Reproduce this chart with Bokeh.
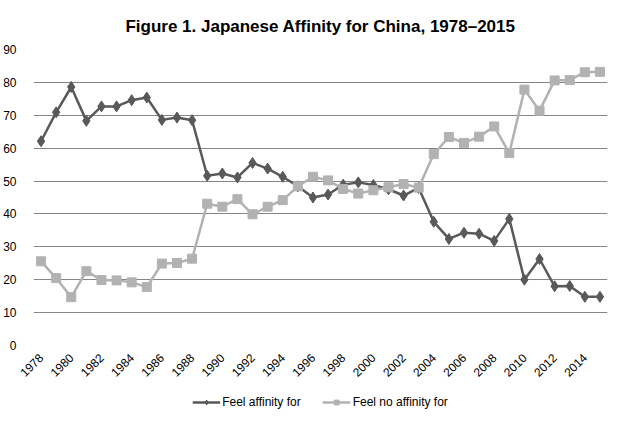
import math
from bokeh.plotting import figure
from bokeh.layouts import column
from bokeh.models import FixedTicker, Range1d, Legend, LegendItem
from bokeh.embed import file_html
from bokeh.resources import INLINE

years = list(range(1978, 2016))
affinity = [62.1, 70.9, 78.6, 68.3, 72.7, 72.7, 74.6, 75.4, 68.6, 69.3, 68.5,
            51.6, 52.3, 51.1, 55.5, 53.8, 51.3, 48.4, 45.0, 45.9, 48.9, 49.6,
            48.8, 47.5, 45.6, 47.9, 37.6, 32.4, 34.3, 34.0, 31.8, 38.5, 20.0,
            26.3, 18.0, 18.1, 14.8, 14.8]
no_affinity = [25.6, 20.5, 14.7, 22.6, 19.9, 19.8, 19.2, 17.8, 24.9, 25.1, 26.4,
               43.1, 42.2, 44.5, 39.9, 42.2, 44.2, 48.4, 51.3, 50.2, 47.6, 46.2,
               47.2, 48.1, 49.1, 48.0, 58.2, 63.4, 61.6, 63.5, 66.6, 58.5, 77.8,
               71.4, 80.6, 80.7, 83.1, 83.2]
year_ticks = list(range(1978, 2015, 2))
y_ticks = list(range(0, 91, 10))
title_text = "Figure 1. Japanese Affinity for China, 1978\u20132015"
series_names = ["Feel affinity for", "Feel no affinity for"]

DARK = "#595959"
LIGHT = "#b2b2b2"
GRID = "#868686"
FONT = "Liberation Sans"

p = figure(frame_width=574, frame_height=296, output_backend="svg",
           toolbar_location=None,
           x_range=Range1d(1977.5, 2015.5), y_range=Range1d(0, 90),
           min_border_left=33, min_border_right=2, min_border_top=48,
           min_border_bottom=48)

p.title.text = title_text
p.title.align = "center"
p.title.text_font = FONT
p.title.text_font_size = "17px"
p.title.text_font_style = "bold"
p.title.text_color = "#000000"
p.title.offset = 0
p.title.standoff = 28

p.outline_line_color = None
p.xgrid.grid_line_color = None
p.ygrid.grid_line_color = GRID
p.ygrid.grid_line_width = 1
p.ygrid.ticker = FixedTicker(ticks=y_ticks)

p.yaxis.ticker = FixedTicker(ticks=y_ticks)
p.yaxis.axis_line_color = None
p.yaxis.major_tick_line_color = None
p.yaxis.minor_tick_line_color = None
p.yaxis.major_label_text_font = FONT
p.yaxis.major_label_text_font_size = "12px"
p.yaxis.major_label_text_color = "#000000"
p.yaxis.major_label_standoff = 11

p.xaxis.ticker = FixedTicker(ticks=year_ticks)
p.xaxis.axis_line_color = None
p.xaxis.major_tick_line_color = None
p.xaxis.minor_tick_line_color = None
p.xaxis.major_label_orientation = math.pi / 4
p.xaxis.major_label_text_font = FONT
p.xaxis.major_label_text_font_size = "12px"
p.xaxis.major_label_text_color = "#000000"
p.xaxis.major_label_standoff = 4

p.line(years, affinity, line_color=DARK, line_width=2.5)
p.scatter(years, affinity, marker="diamond", size=11, fill_color=DARK,
          line_color=DARK)
p.line(years, no_affinity, line_color=LIGHT, line_width=2.5)
p.scatter(years, no_affinity, marker="square", size=9, fill_color=LIGHT,
          line_color=LIGHT)

# legend strip below the chart (series drawn out of view, only legend shows)
q = figure(width=609, height=17, output_backend="svg", toolbar_location=None,
           x_range=Range1d(1977.5, 2015.5), y_range=Range1d(500, 600),
           min_border=0)
q.axis.visible = False
q.grid.visible = False
q.outline_line_color = None
k1 = q.line(years, affinity, line_color=DARK, line_width=2.5)
s1 = q.scatter(years, affinity, marker="diamond", size=9, fill_color=DARK,
               line_color=DARK)
k2 = q.line(years, no_affinity, line_color=LIGHT, line_width=2.5)
s2 = q.scatter(years, no_affinity, marker="square", size=8, fill_color=LIGHT,
               line_color=LIGHT)
legend = Legend(items=[LegendItem(label=series_names[0], renderers=[k1, s1]),
                       LegendItem(label=series_names[1], renderers=[k2, s2])],
                orientation="horizontal", location="center",
                border_line_color=None, background_fill_alpha=0,
                label_text_font=FONT, label_text_font_size="12px",
                label_text_color="#000000", glyph_width=28, glyph_height=12,
                spacing=22, padding=1, margin=0, label_standoff=2)
q.add_layout(legend)

layout = column(p, q, spacing=0)
open("out.html", "w").write(file_html(layout, INLINE))
